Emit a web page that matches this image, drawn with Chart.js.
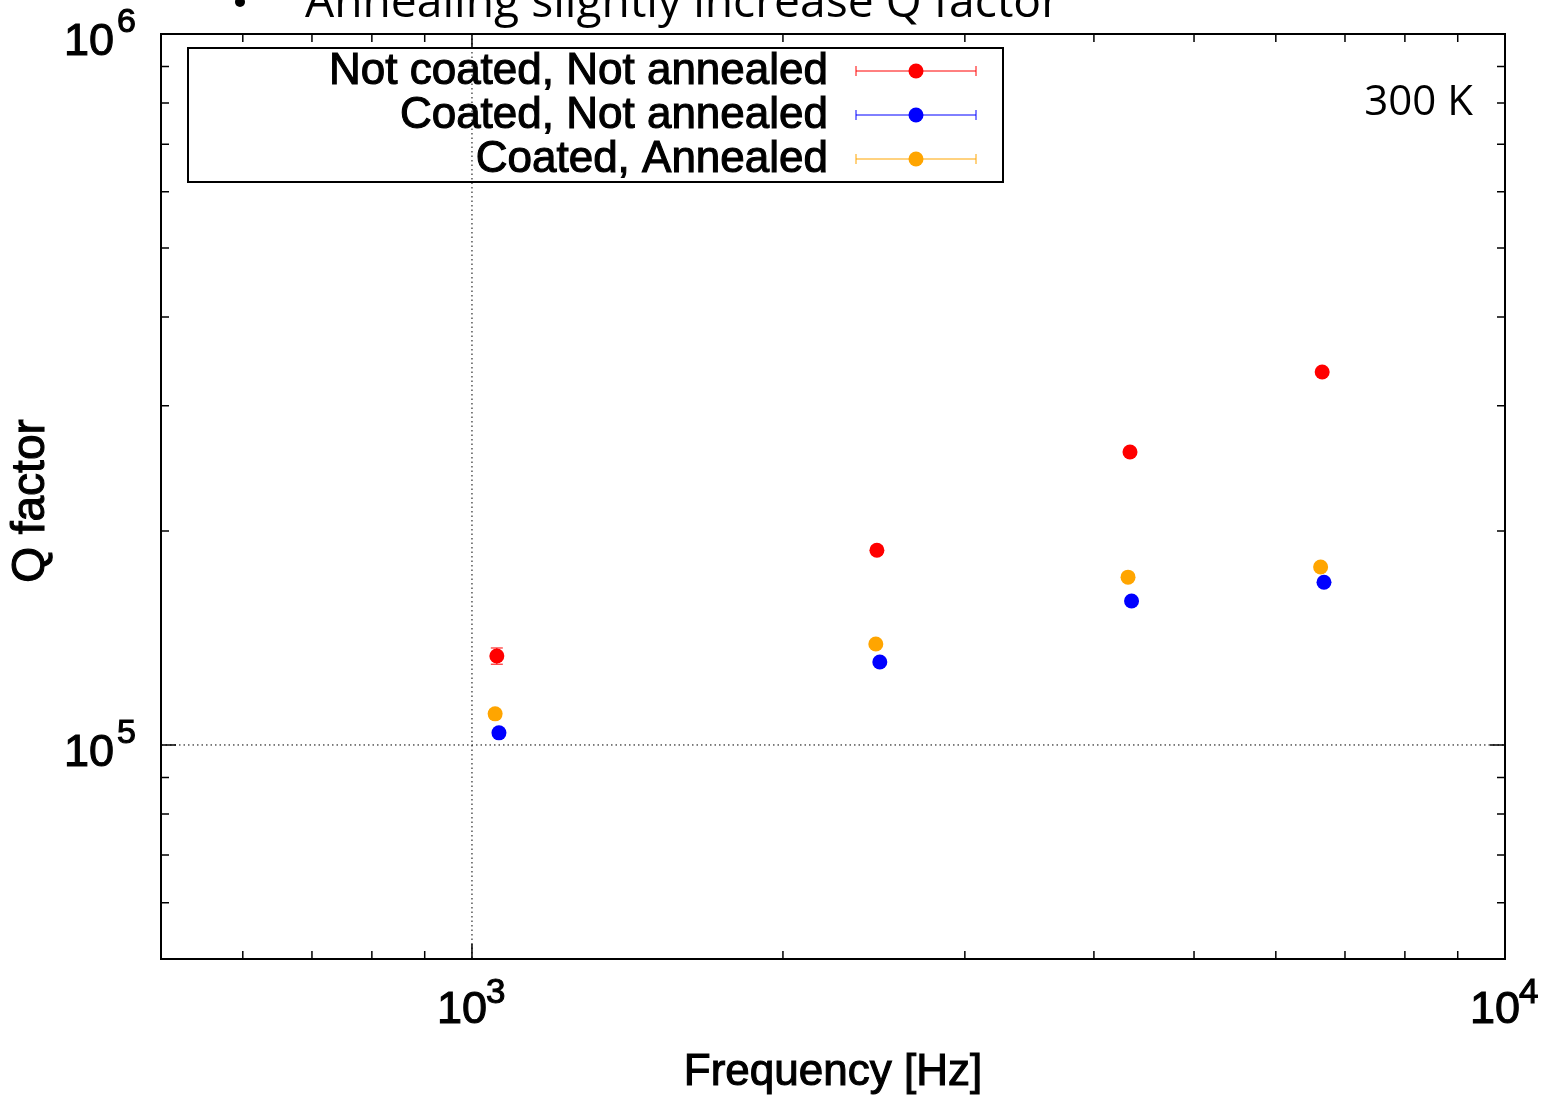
<!DOCTYPE html>
<html>
<head>
<meta charset="utf-8">
<script src="https://cdn.jsdelivr.net/npm/chart.js@4.4.1/dist/chart.umd.min.js"></script>
<style>
  body { margin: 0; background: #fff; }
</style>
</head>
<body>
<canvas id="myChart" width="1545" height="1097"></canvas>
<script>
// data
const seriesNames = ['Not coated, Not annealed', 'Coated, Not annealed', 'Coated, Annealed'];
const seriesColors = ['#ff0000', '#0000ff', '#ffa500'];

const freqNotCoated = [1057, 2466, 4335, 6653];
const qNotCoated    = [133400, 187900, 258300, 334600];
const errNotCoated  = [3500, 2500, 3000, 3500];

const freqCoated = [1062, 2482, 4350, 6680];
const qCoated    = [104000, 130800, 159400, 169400];
const errCoated  = [1200, 1500, 1800, 1800];

const freqAnnealed = [1053, 2460, 4316, 6630];
const qAnnealed    = [110600, 138700, 172200, 178000];
const errAnnealed  = [1500, 1500, 1800, 1800];

// axis ticks
const xMajor = [1000, 10000];
const xMinor = [500, 600, 700, 800, 900, 2000, 3000, 4000, 5000, 6000, 7000, 8000, 9000];
const yMajor = [100000, 1000000];
const yMinor = [60000, 70000, 80000, 90000, 200000, 300000, 400000, 500000, 600000, 700000, 800000, 900000];
const xTickLabels = [['10', '3'], ['10', '4']];
const yTickLabels = [['10', '5'], ['10', '6']];

const FONT = '"Liberation Sans", Arial, sans-serif';
const R = 7.5;

function makePoints(xs, ys, es) {
  let pts = [];
  for (let i = 0; i < xs.length; i++) {
    pts.push({x: xs[i], y: ys[i], err: es[i]});
  }
  return pts;
}

// gnuplot text looks a bit heavier than plain regular, so stroke it lightly too
function heavyText(ctx, txt, x, y) {
  ctx.fillText(txt, x, y);
  ctx.lineWidth = 1.1;
  ctx.strokeStyle = ctx.fillStyle;
  ctx.strokeText(txt, x, y);
}

// frame, ticks, grid, error bars -- drawn under the points
const axesPlugin = {
  id: 'axesPlugin',
  beforeDatasetsDraw(chart) {
    const ctx = chart.ctx;
    const a = chart.chartArea;
    const xs = chart.scales.x, ys = chart.scales.y;
    ctx.save();

    // dotted grid only at 10^3 and 10^5
    ctx.strokeStyle = '#000';
    ctx.lineWidth = 1;
    ctx.setLineDash([1.5, 3]);
    let gx = xs.getPixelForValue(1000);
    ctx.beginPath(); ctx.moveTo(gx, a.top); ctx.lineTo(gx, a.bottom); ctx.stroke();
    let gy = ys.getPixelForValue(100000);
    ctx.beginPath(); ctx.moveTo(a.left, gy); ctx.lineTo(a.right, gy); ctx.stroke();
    ctx.setLineDash([]);

    // ticks on all four sides, pointing inward
    ctx.lineWidth = 1.5;
    function xtick(v, len) {
      let px = xs.getPixelForValue(v);
      ctx.beginPath();
      ctx.moveTo(px, a.bottom); ctx.lineTo(px, a.bottom - len);
      ctx.moveTo(px, a.top); ctx.lineTo(px, a.top + len);
      ctx.stroke();
    }
    function ytick(v, len) {
      let py = ys.getPixelForValue(v);
      ctx.beginPath();
      ctx.moveTo(a.left, py); ctx.lineTo(a.left + len, py);
      ctx.moveTo(a.right, py); ctx.lineTo(a.right - len, py);
      ctx.stroke();
    }
    xMinor.forEach(v => xtick(v, 8));
    xMajor.forEach(v => xtick(v, 15));
    yMinor.forEach(v => ytick(v, 8));
    yMajor.forEach(v => ytick(v, 15));

    // frame
    ctx.lineWidth = 2;
    ctx.strokeRect(a.left, a.top, a.right - a.left, a.bottom - a.top);

    // error bars
    chart.data.datasets.forEach((ds) => {
      ctx.strokeStyle = ds.backgroundColor;
      ctx.lineWidth = 1;
      ds.data.forEach(p => {
        let px = xs.getPixelForValue(p.x);
        let y1 = ys.getPixelForValue(p.y - p.err);
        let y2 = ys.getPixelForValue(p.y + p.err);
        ctx.beginPath();
        ctx.moveTo(px, y1); ctx.lineTo(px, y2);
        ctx.moveTo(px - 6, y1); ctx.lineTo(px + 6, y1);
        ctx.moveTo(px - 6, y2); ctx.lineTo(px + 6, y2);
        ctx.stroke();
      });
    });
    ctx.restore();
  },
  afterDraw(chart) {
    const ctx = chart.ctx;
    const a = chart.chartArea;
    const xs = chart.scales.x, ys = chart.scales.y;
    ctx.save();
    ctx.fillStyle = '#000';
    ctx.textBaseline = 'alphabetic';
    ctx.textAlign = 'left';

    // x tick labels with superscript
    xMajor.forEach((v, i) => {
      let px = xs.getPixelForValue(v);
      ctx.font = '45px ' + FONT;
      heavyText(ctx, xTickLabels[i][0], px - 35, a.bottom + 64);
      ctx.font = '35px ' + FONT;
      heavyText(ctx, xTickLabels[i][1], px + 14, a.bottom + 44);
    });

    // y tick labels with superscript
    yMajor.forEach((v, i) => {
      let py = ys.getPixelForValue(v);
      ctx.font = '45px ' + FONT;
      heavyText(ctx, yTickLabels[i][0], a.left - 97, py + 21);
      ctx.font = '34px ' + FONT;
      heavyText(ctx, yTickLabels[i][1], a.left - 44, py - 2);
    });

    // axis titles
    ctx.font = '44px ' + FONT;
    ctx.textAlign = 'center';
    ctx.textBaseline = 'middle';
    heavyText(ctx, 'Frequency [Hz]', 833, 1073);
    ctx.save();
    ctx.translate(31, 501);
    ctx.rotate(-Math.PI / 2);
    ctx.font = '46px ' + FONT;
    heavyText(ctx, 'Q factor', 0, 0);
    ctx.restore();

    // legend box
    ctx.lineWidth = 2;
    ctx.strokeStyle = '#000';
    ctx.strokeRect(188, 48, 815, 134);
    chart.data.datasets.forEach((ds, i) => {
      let ly = 71 + i * 44;
      ctx.font = '44px ' + FONT;
      ctx.textAlign = 'right';
      ctx.textBaseline = 'middle';
      ctx.fillStyle = '#000';
      heavyText(ctx, ds.label, 828, ly + 1);
      ctx.strokeStyle = ds.backgroundColor;
      ctx.lineWidth = 1;
      ctx.beginPath();
      ctx.moveTo(856, ly); ctx.lineTo(976, ly);
      ctx.moveTo(856, ly - 5); ctx.lineTo(856, ly + 5);
      ctx.moveTo(976, ly - 5); ctx.lineTo(976, ly + 5);
      ctx.stroke();
      ctx.fillStyle = ds.backgroundColor;
      ctx.beginPath();
      ctx.arc(916, ly, R, 0, Math.PI * 2);
      ctx.fill();
    });

    // temperature note
    ctx.fillStyle = '#000';
    ctx.font = '42px "Open Sans", sans-serif';
    ctx.textAlign = 'right';
    ctx.textBaseline = 'alphabetic';
    ctx.fillText('300 K', 1473, 115);

    // slide bullet text cut off at the top
    ctx.textAlign = 'left';
    ctx.font = '46px "Open Sans", sans-serif';
    let t = 'Annealing slightly increase Q factor';
    let tw = ctx.measureText(t).width;
    ctx.save();
    ctx.translate(305, 17);
    ctx.scale(755 / tw, 1);
    ctx.fillText(t, 0, 0);
    ctx.restore();
    ctx.beginPath();
    ctx.arc(240, 2, 5, 0, Math.PI * 2);
    ctx.fill();

    ctx.restore();
  }
};

const ctx = document.getElementById('myChart').getContext('2d');
const myChart = new Chart(ctx, {
  type: 'scatter',
  data: {
    datasets: [
      {
        label: seriesNames[0],
        data: makePoints(freqNotCoated, qNotCoated, errNotCoated),
        backgroundColor: seriesColors[0],
        borderColor: seriesColors[0],
        pointRadius: R,
        borderWidth: 0
      },
      {
        label: seriesNames[1],
        data: makePoints(freqCoated, qCoated, errCoated),
        backgroundColor: seriesColors[1],
        borderColor: seriesColors[1],
        pointRadius: R,
        borderWidth: 0
      },
      {
        label: seriesNames[2],
        data: makePoints(freqAnnealed, qAnnealed, errAnnealed),
        backgroundColor: seriesColors[2],
        borderColor: seriesColors[2],
        pointRadius: R,
        borderWidth: 0
      }
    ]
  },
  options: {
    responsive: false,
    animation: false,
    layout: { padding: { top: 34, right: 40, left: 0, bottom: 0 } },
    scales: {
      x: {
        type: 'logarithmic',
        min: 500,
        max: 10000,
        grid: { display: false },
        border: { display: false },
        ticks: { display: false },
        afterFit(scale) { scale.height = 138; }
      },
      y: {
        type: 'logarithmic',
        min: 50000,
        max: 1000000,
        grid: { display: false },
        border: { display: false },
        ticks: { display: false },
        afterFit(scale) { scale.width = 161; }
      }
    },
    plugins: {
      legend: { display: false },
      tooltip: { enabled: false }
    }
  },
  plugins: [axesPlugin]
});
</script>
</body>
</html>
